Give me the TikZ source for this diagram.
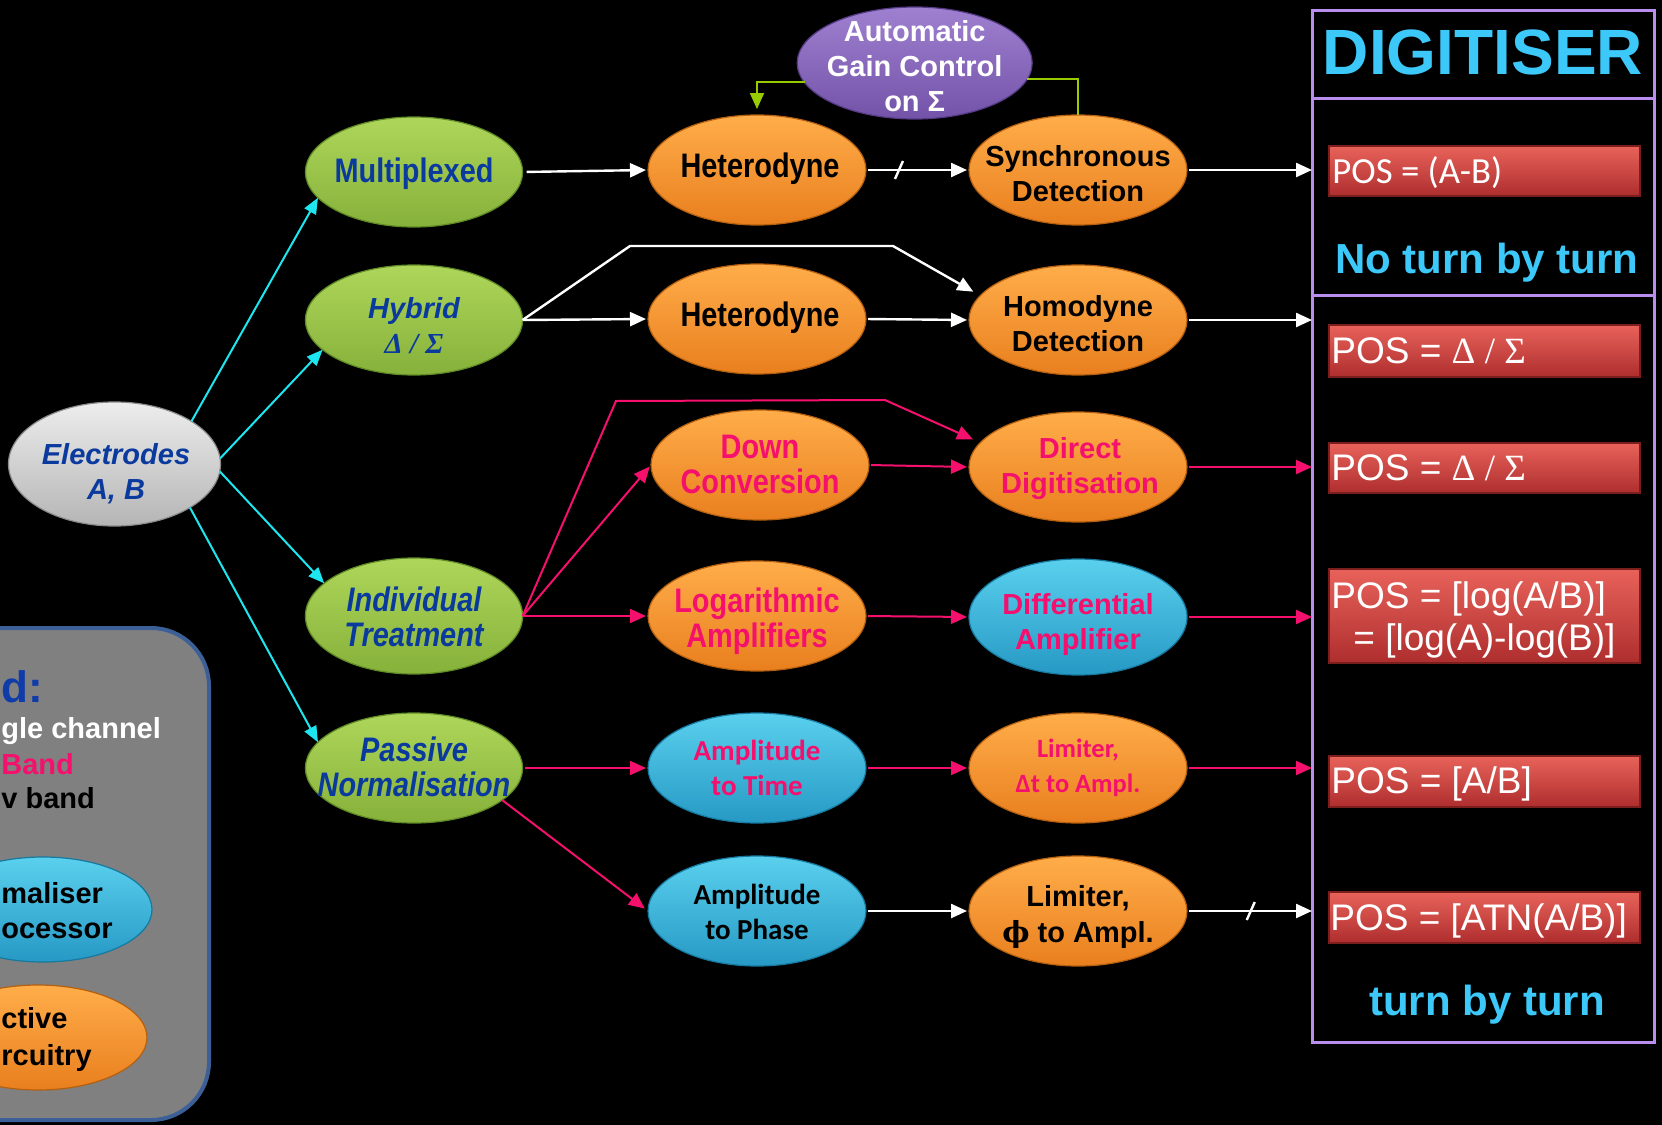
\documentclass[tikz,border=0pt]{standalone}
\usepackage{fontspec}
\setmainfont{Liberation Sans}
\newfontfamily\narrowf{Liberation Sans}[FakeStretch=0.85]
\newfontfamily\calf{Carlito}
\newfontfamily\serf{Liberation Serif}
\newfontfamily\dvs{DejaVu Serif}
\usetikzlibrary{arrows.meta,calc,shapes.geometric}
\definecolor{orT}{HTML}{FFAD4A}
\definecolor{orB}{HTML}{E97F1E}
\definecolor{orD}{HTML}{B5600F}
\definecolor{grT}{HTML}{AED65A}
\definecolor{grB}{HTML}{86B13A}
\definecolor{grD}{HTML}{5F8A25}
\definecolor{blT}{HTML}{5AD0EE}
\definecolor{blB}{HTML}{2699C4}
\definecolor{blD}{HTML}{16799F}
\definecolor{gyT}{HTML}{EDEDED}
\definecolor{gyB}{HTML}{B5B5B5}
\definecolor{gyD}{HTML}{8A8A8A}
\definecolor{puT}{HTML}{9F80D0}
\definecolor{puB}{HTML}{7353A8}
\definecolor{puD}{HTML}{553A85}
\definecolor{tblue}{HTML}{0B3A9E}
\definecolor{mag}{HTML}{F5106E}
\definecolor{cyanl}{HTML}{1EE6F0}
\definecolor{agcg}{HTML}{99CC00}
\definecolor{frm}{HTML}{B88EEE}
\definecolor{digic}{HTML}{3CC8F8}
\definecolor{redT}{HTML}{E8625A}
\definecolor{redB}{HTML}{AE2E2E}
\definecolor{redD}{HTML}{7A1E1E}
\definecolor{legG}{HTML}{808080}
\definecolor{legB}{HTML}{3B5F96}
\definecolor{legblue}{HTML}{0F3CA8}
\newcommand\fsA{\fontsize{14.5pt}{17.5pt}\selectfont}
\newcommand\fsN{\fontsize{17pt}{17.5pt}\selectfont}
\newcommand\fsL{\fontsize{13.2pt}{17.5pt}\selectfont}
\newcommand\fsR{\fontsize{18.5pt}{21pt}\selectfont}
\tikzset{
  oval/.style={ellipse, inner sep=0pt, outer sep=0pt, line width=0.6pt},
  orangeoval/.style={oval, top color=orT, bottom color=orB, draw=orD},
  greenoval/.style={oval, top color=grT, bottom color=grB, draw=grD},
  blueoval/.style={oval, top color=blT, bottom color=blB, draw=blD},
  grayoval/.style={oval, top color=gyT, bottom color=gyB, draw=gyD},
  purpleoval/.style={oval, top color=puT, bottom color=puB, draw=puD},
  midsize/.style={minimum width=109pt, minimum height=55pt},
  tA/.style={font=\bfseries\fsA, align=center, inner sep=0pt},
  tN/.style={font=\narrowf\bfseries\fsN, align=center, inner sep=0pt},
  tC/.style={font=\calf\bfseries\fsA, align=center, inner sep=0pt},
  tipw/.style={-{Triangle[length=8pt,width=7pt]}},
  wline/.style={draw=white, line width=1.2pt, tipw},
  mline/.style={draw=mag, line width=1pt, -{Triangle[length=8pt,width=7pt]}},
  cline/.style={draw=cyanl, line width=1pt, -{Triangle[length=8pt,width=6.5pt]}},
  redbox/.style={rectangle, inner sep=0pt, outer sep=0pt, top color=redT, bottom color=redB, draw=redD, line width=0.6pt, minimum width=155.5pt},
  rtxt/.style={text=white, anchor=base west, inner sep=0pt, font=\fsR},
  lt/.style={font=\bfseries\fsA, anchor=base west, inner sep=0pt},
  cyt/.style={text=digic, inner sep=0pt, font=\bfseries\fontsize{21pt}{24pt}\selectfont, anchor=base}
}
\begin{document}
\begin{tikzpicture}[x=0.5pt,y=-0.5pt]
\useasboundingbox (0,0) rectangle (1662,1125);
\clip (0,0) rectangle (1662,1125);
\fill[black] (0,0) rectangle (1662,1125);

% ---------- legend ----------
\node[rectangle, rounded corners=29pt, draw=legB, fill=legG, line width=2pt, minimum width=134.5pt, minimum height=246pt] (leg) at (74.5,874) {};
\node[font=\bfseries\fontsize{22pt}{26pt}\selectfont, text=legblue, anchor=base west, inner sep=0pt] (legT) at (1,702) {d:};
\node[lt, text=white] (leg1) at (1,738) {gle channel};
\node[lt, text=mag] (leg2) at (1,774) {Band};
\node[lt, text=black] (leg3) at (1,808) {v band};
\node[blueoval, minimum width=109pt, minimum height=52.5pt] (legN) at (43,909.5) {};
\node[lt] (legN1) at (1,903) {maliser};
\node[lt] (legN2) at (1,938) {ocessor};
\node[orangeoval, minimum width=109pt, minimum height=52.5pt] (legA) at (38,1037.5) {};
\node[lt] (legA1) at (1,1028) {ctive};
\node[lt] (legA2) at (1,1065) {rcuitry};

% ---------- ellipses ----------
\node[grayoval, minimum width=106pt, minimum height=62pt] (E) at (114.5,464) {};
\node[tA, font=\bfseries\itshape\fsA, text=tblue] (E-t) at (116,474) {Electrodes\\A, B};

\node[greenoval, minimum width=108.6pt, minimum height=55pt] (Mux) at (414,172) {};
\node[tN, text=tblue] (Mux-t) at (414,174) {Multiplexed};
\node[greenoval, minimum width=108.6pt, minimum height=55pt] (Hyb) at (414,320) {};
\node[tA, font=\bfseries\itshape\fsA, text=tblue] (Hyb-t) at (414,326) {Hybrid\\{\serf\bfseries\itshape Δ / Σ}};
\node[greenoval, minimum width=108.6pt, minimum height=58pt] (Ind) at (414,616) {};
\node[tN, font=\narrowf\bfseries\itshape\fsN, text=tblue] (Ind-t) at (414,617) {Individual\\Treatment};
\node[greenoval, minimum width=108.6pt, minimum height=55pt] (Pas) at (414,768) {};
\node[tN, font=\narrowf\bfseries\itshape\fsN, text=tblue] (Pas-t) at (414,767) {Passive\\Normalisation};

\node[purpleoval, minimum width=117.5pt, minimum height=56pt] (AGC) at (914.7,63) {};
\node[tA, text=white] (AGC-t) at (914.7,66) {Automatic\\Gain Control\\on Σ};

\node[orangeoval, midsize] (Het1) at (757,170) {};
\node[tN, text=black] (Het1-t) at (760,169) {Heterodyne};
\node[orangeoval, midsize] (Het2) at (757,319) {};
\node[tN, text=black] (Het2-t) at (760,318) {Heterodyne};
\node[orangeoval, midsize] (Down) at (760,465) {};
\node[tN, text=mag] (Down-t) at (760,464) {Down\\Conversion};
\node[orangeoval, midsize] (Log) at (757,616) {};
\node[tN, text=mag] (Log-t) at (757,621) {Logarithmic\\Amplifiers};
\node[blueoval, midsize] (A2T) at (757,768) {};
\node[tC, text=mag] (A2T-t) at (757,768) {Amplitude\\to Time};
\node[blueoval, midsize] (A2P) at (757,911) {};
\node[tC, text=black] (A2P-t) at (757,912) {Amplitude\\to Phase};

\node[orangeoval, midsize] (Sync) at (1078,170) {};
\node[tA, text=black] (Sync-t) at (1078,174) {Synchronous\\Detection};
\node[orangeoval, midsize] (Homo) at (1078,320) {};
\node[tA, text=black] (Homo-t) at (1078,324) {Homodyne\\Detection};
\node[orangeoval, midsize] (Direct) at (1078,467) {};
\node[tA, text=mag] (Direct-t) at (1080,469) {Direct\\Digitisation};
\node[blueoval, minimum width=109pt, minimum height=58pt] (Diff) at (1078,617) {};
\node[tA, text=mag] (Diff-t) at (1078,624) {Differential\\Amplifier};
\node[orangeoval, midsize] (LimT) at (1078,768) {};
\node[tC, font=\calf\bfseries\fsL, text=mag] (LimT-t) at (1078,768) {Limiter,\\Δt to Ampl.};
\node[orangeoval, midsize] (LimP) at (1078,911) {};
\node[tA, text=black] (LimP-t) at (1078,917) {Limiter,\\{\dvs ϕ} to Ampl.};

% ---------- digitiser ----------
\node[rectangle, draw=frm, line width=1.5pt, inner sep=0pt, outer sep=0pt, minimum width=171pt, minimum height=516pt] (dig) at (1483,526) {};
\coordinate (h1) at (0,98);
\coordinate (h2) at (0,295);
\draw[frm, line width=1.5pt] (dig.west |- h1) -- (dig.east |- h1);
\draw[frm, line width=1.5pt] (dig.west |- h2) -- (dig.east |- h2);
\node[text=digic, inner sep=0pt, font=\bfseries\fontsize{32pt}{36pt}\selectfont] (digT) at (1483,52) {DIGITISER};
\node[cyt] (nottb) at (1487,273) {No turn by turn};
\node[cyt] (ttb) at (1487,1015) {turn by turn};

\node[redbox, minimum height=25pt] (r1) at (1484.5,171) {};
\node[redbox, minimum height=26pt] (r2) at (1484.5,351) {};
\node[redbox, minimum height=25pt] (r3) at (1484.5,468) {};
\node[redbox, minimum height=47pt] (r4) at (1484.5,616) {};
\node[redbox, minimum height=25.5pt] (r5) at (1484.5,781.5) {};
\node[redbox, minimum height=25.5pt] (r6) at (1484.5,917.5) {};
\node[rtxt, font=\calf\fontsize{18.4pt}{21pt}\selectfont] (r1-t) at (1332,183) {POS = (A-B)};
\node[rtxt] (r2-t) at (1331,363) {POS = {\serf Δ / Σ}};
\node[rtxt] (r3-t) at (1331,480) {POS = {\serf Δ / Σ}};
\node[rtxt] (r4-t) at (1331,608) {POS = [log(A/B)]};
\node[rtxt] (r4-u) at (1353,650) {= [log(A)-log(B)]};
\node[rtxt] (r5-t) at (1331,793) {POS = [A/B]};
\node[rtxt] (r6-t) at (1330,930) {POS = [ATN(A/B)]};

% ---------- connectors ----------
\draw[cline] (E.29) -- (Mux.195);
\draw[cline] (E.3.5) -- (Hyb.198);
\draw[cline] (E.-4) -- (Ind.160);
\draw[cline] (E.-30) -- (Pas.165);

\draw[agcg, line width=1pt, -{Triangle[length=8pt,width=7pt]}, shorten >=3pt] (AGC.190) -| (Het1.north);
\draw[agcg, line width=1pt] (AGC.-8) -| (Sync.north);

\draw[wline, shorten <=2pt, shorten >=1pt] (Mux.east) -- (Het1.west);
\draw[wline, shorten <=1pt, shorten >=1pt] (Het1.east) -- (Sync.west);
\draw[white, line width=1.2pt] ($(Het1.east)!0.32!(Sync.west)+(-4,9)$) -- ++(8,-18);
\draw[wline, shorten <=1pt] (Sync.east) -- (Sync.east -| dig.west);

\coordinate (hb1) at (630,246);
\coordinate (hb2) at (893,246);
\draw[wline, shorten >=1pt] (Hyb.east) -- (Het2.west);
\draw[wline, shorten >=4pt] (Hyb.east) -- (hb1) -- (hb2) -- (Homo.166);
\draw[wline, shorten <=1pt, shorten >=1pt] (Het2.east) -- (Homo.west);
\draw[wline, shorten <=1pt] (Homo.east) -- (Homo.east -| dig.west);

\coordinate (ib1) at (616,401);
\coordinate (ib2) at (885,400);
\draw[mline, shorten >=1pt] (Ind.east) -- (Log.west);
\draw[mline, shorten >=1pt] (Ind.east) -- (Down.west);
\draw[mline, shorten >=4pt] (Ind.east) -- (ib1) -- (ib2) -- (Direct.166);
\draw[mline, shorten <=1pt, shorten >=1pt] (Down.east) -- (Direct.west);
\draw[mline, shorten <=1pt] (Direct.east) -- (Direct.east -| dig.west);
\draw[mline, shorten <=1pt, shorten >=1pt] (Log.east) -- (Diff.west);
\draw[mline, shorten <=1pt] (Diff.east) -- (Diff.east -| dig.west);

\draw[mline, shorten <=1pt, shorten >=1pt] (Pas.east) -- (A2T.west);
\draw[mline, shorten <=1pt, shorten >=1pt] (A2T.east) -- (LimT.west);
\draw[mline, shorten <=1pt] (LimT.east) -- (LimT.east -| dig.west);
\draw[mline, shorten >=2pt] (Pas.-20) -- (A2P.west);

\draw[wline, shorten <=1pt, shorten >=1pt] (A2P.east) -- (LimP.west);
\draw[wline, shorten <=1pt] (LimP.east) -- (LimP.east -| dig.west);
\draw[white, line width=1.2pt] ($(LimP.east)!0.51!(LimP.east -| dig.west)+(-4,9)$) -- ++(8,-18);
\end{tikzpicture}
\end{document}
